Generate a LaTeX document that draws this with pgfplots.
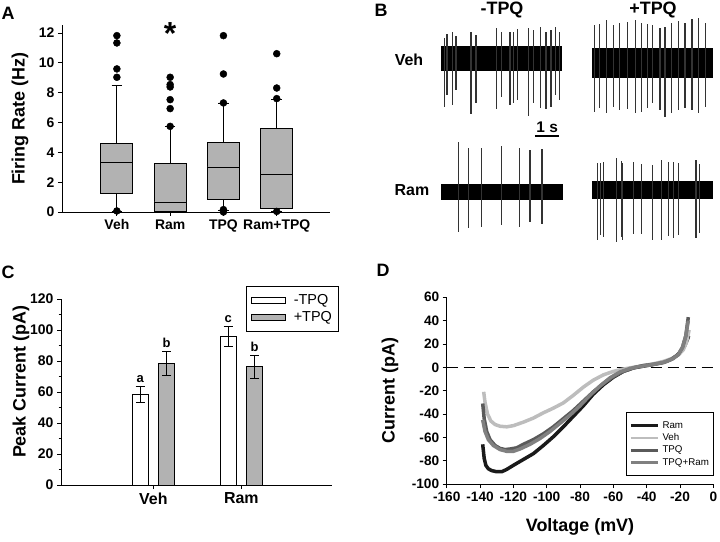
\documentclass[border=0pt]{standalone}
\usepackage{fontspec}
\setmainfont{Liberation Sans}
\usepackage{pgfplots}
\pgfplotsset{compat=1.18}
\usepgfplotslibrary{statistics}
\usepackage{pgfplotstable}
\newcommand\fs[1]{\fontsize{#1}{#1}\selectfont}
\definecolor{boxgray}{HTML}{B2B2B2}
\definecolor{spikegray}{HTML}{333333}
\definecolor{cRam}{HTML}{1A1A1A}
\definecolor{cVeh}{HTML}{BDBDBD}
\definecolor{cTPQ}{HTML}{5A5A5A}
\definecolor{cTR}{HTML}{808080}

% spike tables: time (s), centre, up amplitude, down amplitude
\pgfplotstableread{
t c up dn
0.10 0 20.7 48.3
0.22 0 24.3 36.7
0.46 0 26.7 46.7
0.60 0 22.3 31.7
1.23 0 26.7 56.0
1.44 0 23.3 45.0
2.28 0 30.7 51.0
2.50 0 26.0 39.0
2.86 0 26.0 46.7
3.00 0 26.0 45.0
3.18 0 29.3 41.7
3.65 0 30.0 57.7
3.84 0 28.3 45.0
4.13 0 31.3 49.3
4.37 0 26.0 50.7
4.58 0 28.3 48.3
4.76 0 31.7 36.7
4.93 0 26.7 41.7
}\spA
\pgfplotstableread{
t c up dn
0.07 0 37.5 49.2
0.28 0 38.5 45.8
0.59 0 42.5 50.8
0.88 0 37.5 44.2
1.12 0 39.8 47.5
1.47 0 40.8 46.8
1.79 0 42.5 50.8
2.03 0 39.8 49.2
2.28 0 38.5 45.8
2.51 0 37.5 40.8
2.82 0 34.2 47.5
3.03 0 35.8 54.2
3.32 0 39.2 50.8
3.60 0 41.8 47.5
3.87 0 39.2 45.8
4.16 0 43.2 47.5
4.43 0 44.2 50.8
4.71 0 39.8 44.2
}\spB
\pgfplotstableread{
t c up dn
0.71 0 50.0 40.0
1.11 0 44.0 36.0
1.66 0 43.3 35.0
2.47 0 45.7 33.3
3.25 0 44.0 35.0
3.67 0 41.7 30.7
4.17 0 42.7 32.7
}\spC
\pgfplotstableread{
t c up dn
0.21 0 26.3 50.3
0.31 0 26.3 45.3
0.45 0 28.0 47.0
1.01 0 31.3 52.0
1.19 0 28.7 47.0
1.26 0 26.3 50.3
1.70 0 27.3 44.7
2.04 0 25.3 44.7
2.49 0 24.7 50.3
2.89 0 29.7 50.3
3.17 0 28.0 46.0
3.38 0 27.3 48.0
3.60 0 26.3 45.3
4.33 0 29.7 48.7
4.47 0 25.3 43.7
}\spD

\pgfplotsset{
  panel/.style={scale only axis, axis x line*=bottom, axis y line*=left,
    axis line style={-, line width=0.8bp}, tick align=outside,
    tick style={black, line width=0.8bp}, major tick length=4bp, minor tick length=2.5bp,
    /pgf/number format/assume math mode=true,
    tick label style={font=\bfseries\fs{14}},
    label style={font=\bfseries\fs{18}}},
  trace/.style={scale only axis, hide axis, clip=false, anchor=west,
    height=120bp, xmin=0, xmax=5, ymin=-60, ymax=60},
  spikes/.style={draw=none, mark=none, forget plot,
    error bars/.cd, y dir=both, y explicit, error mark=none,
    error bar style={line width=1.15bp, spikegray}},
}

\begin{document}
\begin{tikzpicture}
\useasboundingbox (0,0) rectangle (720bp,542bp);

% ---------------- Panel A ----------------
\begin{axis}[panel, at={(62bp,330bp)}, anchor=south west,
  width=268bp, height=186.5bp, xmin=-0.03, xmax=5, ymin=0, ymax=12.5,
  boxplot/draw direction=y,
  ytick={0,2,...,12}, xtick={1,2,3,4}, xticklabels={Veh,Ram,TPQ,Ram+TPQ},
  ylabel={Firing Rate (Hz)},
  ylabel style={at={(axis description cs:-0.157,0.5)}, anchor=center},
  clip=false]
\addplot[boxplot prepared={draw position=1, median=3.35, upper quartile=4.63,
  lower quartile=1.27, upper whisker=8.47, lower whisker=0.05, box extend=0.6, whisker extend=0.2},
  draw=black, fill=boxgray, line width=0.8bp] coordinates {};
\addplot[boxplot prepared={draw position=2, median=0.67, upper quartile=3.24,
  lower quartile=0.03, upper whisker=5.74, lower whisker=0.0, box extend=0.6, whisker extend=0.2},
  draw=black, fill=boxgray, line width=0.8bp] coordinates {};
\addplot[boxplot prepared={draw position=3, median=3.02, upper quartile=4.69,
  lower quartile=0.83, upper whisker=7.31, lower whisker=0.1, box extend=0.6, whisker extend=0.2},
  draw=black, fill=boxgray, line width=0.8bp] coordinates {};
\addplot[boxplot prepared={draw position=4, median=2.5, upper quartile=5.63,
  lower quartile=0.27, upper whisker=7.53, lower whisker=0.04, box extend=0.6, whisker extend=0.2},
  draw=black, fill=boxgray, line width=0.8bp] coordinates {};
\addplot[only marks, mark=*, mark size=3.5bp, black] coordinates {
  (1,0.07) (1,9.03) (1,9.59) (1,11.33) (1,11.82)
  (2,5.74) (2,6.93) (2,7.53) (2,8.38) (2,8.54) (2,9.03)
  (3,0.0) (3,0.16) (3,7.31) (3,9.25) (3,11.82)
  (4,0.04) (4,7.6) (4,8.31) (4,10.61)};
\node[font=\bfseries\fs{32}] at (axis cs:2,11.95) {*};
\end{axis}

% ---------------- Panel B ----------------
\begin{axis}[trace, at={(441.7bp,483.7bp)}, width=119.3bp]
\addplot[fill=black, draw=black, line width=0.6bp] coordinates {(0,-11.7) (5,-11.7) (5,11.7) (0,11.7)} -- cycle;
\addplot[spikes] table[x=t, y=c, y error plus=up, y error minus=dn] {\spA};
\addplot[black, line width=2bp] coordinates {(3.91,-77.7) (4.92,-77.7)};
\node[font=\bfseries\fs{15.5}] at (axis cs:4.42,-68.5) {1 s};
\end{axis}
\begin{axis}[trace, at={(592.7bp,479.5bp)}, width=119.3bp]
\addplot[fill=black, draw=black, line width=0.6bp] coordinates {(0,-14.5) (5,-14.5) (5,14.5) (0,14.5)} -- cycle;
\addplot[spikes] table[x=t, y=c, y error plus=up, y error minus=dn] {\spB};
\end{axis}
\begin{axis}[trace, at={(441.7bp,350.3bp)}, width=120.3bp]
\addplot[fill=black, draw=black, line width=0.6bp] coordinates {(0,-7.3) (5,-7.3) (5,7.3) (0,7.3)} -- cycle;
\addplot[spikes] table[x=t, y=c, y error plus=up, y error minus=dn] {\spC};
\end{axis}
\begin{axis}[trace, at={(592.7bp,352.3bp)}, width=119.3bp]
\addplot[fill=black, draw=black, line width=0.6bp] coordinates {(0,-8.7) (5,-8.7) (5,8.7) (0,8.7)} -- cycle;
\addplot[spikes] table[x=t, y=c, y error plus=up, y error minus=dn] {\spD};
\end{axis}

% ---------------- Panel C ----------------
\begin{axis}[panel, at={(61bp,57bp)}, anchor=south west,
  width=271bp, height=186bp, xmin=-0.05, xmax=3.03, ymin=0, ymax=120,
  ytick={0,20,...,120}, minor y tick num=1,
  xtick={1,2}, xticklabels={Veh,Ram},
  xticklabel style={font=\bfseries\fs{16}},
  ylabel={Peak Current (pA)},
  ylabel style={at={(axis description cs:-0.148,0.555)}, anchor=center},
  clip=false,
  legend style={at={(axis description cs:0.683,1.07)}, anchor=north west,
    draw=black, line width=0.8bp, font=\fs{14.5}, row sep=2bp,
    inner xsep=5bp, inner ysep=7bp, nodes={inner sep=1.5bp}},
  legend cell align=left]
\addplot[ybar, bar width=16bp, bar shift=0pt, fill=white, draw=black, line width=0.8bp,
  legend image code/.code={\draw[fill=white, draw=black, line width=0.8bp] (0bp,-3bp) rectangle (34bp,3bp); \path (40bp,0bp);},
  error bars/.cd, y dir=both, y explicit,
  error bar style={line width=0.9bp, black},
  error mark options={rotate=90, mark size=4.5bp, line width=0.9bp, black}]
  coordinates {(0.85,58.5) +- (0,5.4) (1.85,95.7) +- (0,6.3)};
\addlegendentry{-TPQ}
\addplot[ybar, bar width=16bp, bar shift=0pt, fill=boxgray, draw=black, line width=0.8bp,
  legend image code/.code={\draw[fill=boxgray, draw=black, line width=0.8bp] (0bp,-3bp) rectangle (34bp,3bp); \path (40bp,0bp);},
  error bars/.cd, y dir=both, y explicit,
  error bar style={line width=0.9bp, black},
  error mark options={rotate=90, mark size=4.5bp, line width=0.9bp, black}]
  coordinates {(1.15,78.5) +- (0,7.5) (2.15,76.2) +- (0,7.2)};
\addlegendentry{+TPQ}
\node[font=\bfseries\fs{13}] at (axis cs:0.85,68.5) {a};
\node[font=\bfseries\fs{13}] at (axis cs:1.15,91.5) {b};
\node[font=\bfseries\fs{13}] at (axis cs:1.85,107) {c};
\node[font=\bfseries\fs{13}] at (axis cs:2.15,89) {b};
\end{axis}

% ---------------- Panel D ----------------
\begin{axis}[panel, at={(446.7bp,58bp)}, anchor=south west,
  width=266.6bp, height=186.7bp, xmin=-160, xmax=0, ymin=-100, ymax=60,
  xtick={-160,-140,...,0}, ytick={-100,-80,...,60},
  tick label style={font=\bfseries\fs{13.7}},
  xlabel={Voltage (mV)}, ylabel={Current (pA)},
  xlabel style={at={(axis description cs:0.5,-0.229)}, anchor=center},
  ylabel style={at={(axis description cs:-0.213,0.5)}, anchor=center},
  clip=false,
  legend style={at={(axis description cs:1,0.386)}, anchor=north east,
    draw=black, line width=0.8bp, font=\fs{9.8}, row sep=2bp,
    inner xsep=3bp, inner ysep=8bp, nodes={inner sep=1bp}},
  legend cell align=left,
  legend image code/.code={\draw[#1, line width=2.6bp] (0bp,0bp) -- (27bp,0bp); \path (29bp,0bp);}]
\addplot[black, line width=1.3bp, dash pattern=on 11bp off 6bp, forget plot] coordinates {(-160,0) (0,0)};
\addplot[cRam, line width=3.5bp] coordinates {
(-138.4,-66) (-137.5,-78) (-136.5,-84) (-135,-87) (-133,-88.5) (-130,-89.5) (-127,-89.5)
(-124,-87.5) (-120,-84) (-114,-79) (-108,-74) (-102,-67) (-96,-59.5) (-90,-51) (-84,-42)
(-78,-33) (-72,-23) (-66,-15) (-60,-8.5) (-54,-3.5) (-48,-0.5) (-42,1) (-36,2.5) (-30,4.5)
(-25,7) (-22,10) (-19,14) (-17,19) (-15.5,24) (-14.8,27)};
\addlegendentry{Ram}
\addplot[cVeh, line width=3.5bp] coordinates {
(-137.8,-21) (-137,-30) (-135.5,-40) (-133.5,-46) (-131,-49) (-128,-50.5) (-124,-51)
(-120,-50) (-114,-47) (-108,-43.5) (-102,-39) (-96,-35) (-90,-30.5) (-84,-24) (-78,-17)
(-72,-11) (-66,-6.5) (-60,-3.5) (-54,-1.5) (-48,0) (-42,1.5) (-36,3) (-30,5) (-25,7.5)
(-21,10.5) (-18,15) (-16,22) (-14.5,32)};
\addlegendentry{Veh}
\addplot[cTPQ, line width=3.5bp] coordinates {
(-138.4,-31) (-137.5,-44) (-136,-55) (-134,-62) (-131,-67) (-128,-69.5) (-125,-70.5)
(-122,-70) (-118,-69) (-114,-66) (-108,-62) (-102,-57) (-96,-51) (-90,-44) (-84,-37)
(-78,-29) (-72,-21) (-66,-14) (-60,-8) (-54,-3.5) (-48,-0.5) (-42,1.5) (-36,2.5) (-30,4)
(-25,7) (-21,11) (-18.5,17) (-16.5,27) (-15,43)};
\addlegendentry{TPQ}
\addplot[cTR, line width=3.5bp] coordinates {
(-138.4,-45) (-137,-55) (-135,-62) (-132,-67) (-128,-70.5) (-124,-72) (-120,-72) (-116,-70)
(-110,-66) (-104,-61) (-98,-55) (-92,-48) (-86,-41) (-80,-33) (-74,-24) (-68,-16) (-62,-9)
(-56,-4) (-50,-1) (-45,0.5) (-40,1.5) (-34,3) (-28,5) (-24,7.5) (-21,11) (-18.5,17)
(-16.5,27) (-15,40)};
\addlegendentry{TPQ+Ram}
\end{axis}

% ---------------- labels ----------------
\node[font=\bfseries\fs{18}] at (8bp,529bp) {A};
\node[font=\bfseries\fs{18}] at (381bp,532bp) {B};
\node[font=\bfseries\fs{18}] at (8bp,270bp) {C};
\node[font=\bfseries\fs{18}] at (383bp,272bp) {D};
\node[font=\bfseries\fs{18}] at (502bp,532bp) {-TPQ};
\node[font=\bfseries\fs{18}] at (653bp,532bp) {+TPQ};
\node[font=\bfseries\fs{16}] at (409bp,482bp) {Veh};
\node[font=\bfseries\fs{16}] at (412bp,352bp) {Ram};
\end{tikzpicture}
\end{document}
